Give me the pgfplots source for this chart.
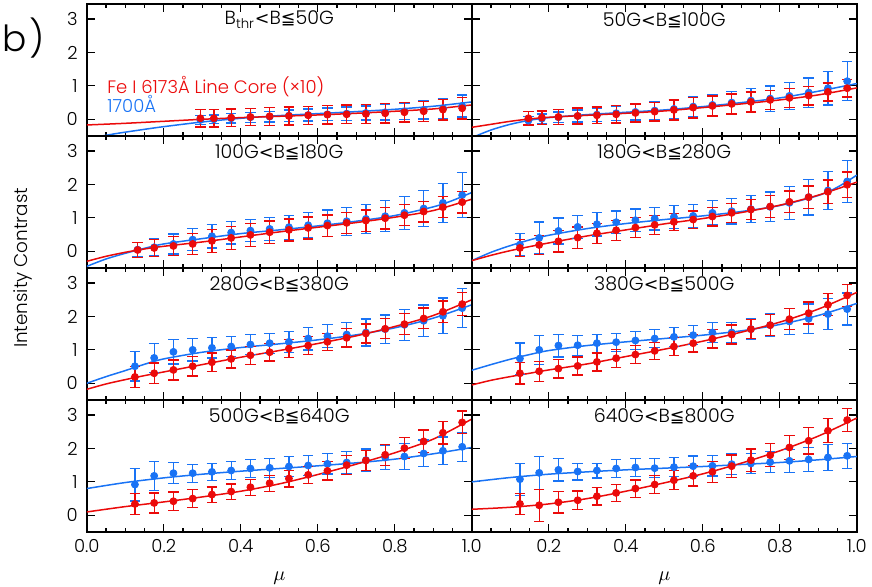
\documentclass[border=0pt]{standalone}
\usepackage{fontspec}
\setmainfont{Poppins}[UprightFont={* Light}]
\newfontfamily\djv{DejaVu Sans}[Scale=0.92]
\usepackage{pgfplots}
\usepackage{pgfplotstable}
\pgfplotsset{compat=1.18}
\usepgfplotslibrary{groupplots}
\definecolor{rd}{RGB}{235,10,10}
\definecolor{bl}{RGB}{25,115,245}

\pgfplotstableread{
x b be r re
0.295 -0.02 0.13 0.03 0.26
0.330 0.00 0.13 0.03 0.26
0.375 0.03 0.14 0.05 0.26
0.425 0.06 0.15 0.07 0.26
0.475 0.08 0.16 0.09 0.27
0.525 0.11 0.17 0.10 0.27
0.575 0.13 0.18 0.12 0.27
0.625 0.15 0.19 0.14 0.28
0.675 0.17 0.20 0.15 0.28
0.725 0.19 0.21 0.16 0.28
0.775 0.21 0.23 0.18 0.29
0.825 0.24 0.25 0.21 0.29
0.875 0.28 0.27 0.24 0.30
0.925 0.33 0.30 0.29 0.31
0.975 0.40 0.33 0.33 0.32
}\tA
\pgfplotstableread{
x b be r re
0.147 -0.04 0.12 0.03 0.20
0.182 0.02 0.14 0.05 0.20
0.225 0.06 0.16 0.07 0.22
0.275 0.10 0.18 0.10 0.24
0.325 0.14 0.20 0.12 0.25
0.375 0.18 0.22 0.15 0.26
0.425 0.22 0.24 0.19 0.27
0.475 0.26 0.26 0.23 0.28
0.525 0.31 0.28 0.28 0.30
0.575 0.38 0.30 0.35 0.31
0.625 0.43 0.32 0.40 0.30
0.675 0.50 0.34 0.46 0.30
0.725 0.56 0.36 0.52 0.30
0.775 0.62 0.38 0.58 0.29
0.825 0.70 0.40 0.64 0.29
0.875 0.80 0.44 0.71 0.28
0.925 0.93 0.50 0.82 0.27
0.975 1.14 0.58 0.93 0.26
}\tB
\pgfplotstableread{
x b be r re
0.132 0.05 0.22 0.04 0.22
0.175 0.12 0.26 0.10 0.25
0.225 0.22 0.30 0.16 0.28
0.275 0.35 0.33 0.22 0.32
0.325 0.45 0.35 0.31 0.34
0.375 0.56 0.34 0.40 0.35
0.425 0.62 0.33 0.49 0.35
0.475 0.67 0.34 0.57 0.34
0.525 0.72 0.36 0.64 0.33
0.575 0.78 0.38 0.70 0.33
0.625 0.84 0.40 0.77 0.32
0.675 0.90 0.42 0.85 0.32
0.725 0.97 0.44 0.92 0.32
0.775 1.05 0.46 0.99 0.32
0.825 1.15 0.50 1.08 0.31
0.875 1.28 0.54 1.19 0.31
0.925 1.45 0.58 1.32 0.31
0.975 1.68 0.67 1.47 0.32
}\tC
\pgfplotstableread{
x b be r re
0.125 0.20 0.33 0.10 0.26
0.175 0.40 0.48 0.19 0.28
0.225 0.61 0.39 0.30 0.32
0.275 0.73 0.35 0.41 0.32
0.325 0.81 0.35 0.54 0.30
0.375 0.87 0.34 0.63 0.30
0.425 0.93 0.34 0.71 0.30
0.475 0.98 0.34 0.79 0.28
0.525 1.03 0.34 0.88 0.26
0.575 1.06 0.34 0.95 0.26
0.625 1.15 0.36 1.04 0.28
0.675 1.20 0.38 1.15 0.28
0.725 1.26 0.40 1.25 0.30
0.775 1.33 0.44 1.34 0.32
0.825 1.45 0.49 1.48 0.32
0.875 1.62 0.53 1.62 0.33
0.925 1.82 0.57 1.78 0.35
0.975 2.09 0.63 1.99 0.38
}\tD
\pgfplotstableread{
x b be r re
0.125 0.51 0.44 0.19 0.31
0.175 0.76 0.44 0.30 0.31
0.225 0.94 0.36 0.40 0.30
0.275 1.00 0.33 0.51 0.29
0.325 1.06 0.30 0.63 0.28
0.375 1.10 0.30 0.73 0.27
0.425 1.16 0.30 0.84 0.27
0.475 1.20 0.30 0.93 0.26
0.525 1.24 0.32 1.04 0.26
0.575 1.34 0.34 1.13 0.26
0.625 1.41 0.34 1.24 0.26
0.675 1.46 0.36 1.36 0.27
0.725 1.52 0.40 1.49 0.28
0.775 1.62 0.42 1.63 0.30
0.825 1.75 0.46 1.77 0.31
0.875 1.87 0.47 1.94 0.31
0.925 2.02 0.53 2.14 0.32
0.975 2.25 0.59 2.37 0.34
}\tE
\pgfplotstableread{
x b be r re
0.125 0.74 0.47 0.30 0.32
0.175 1.00 0.43 0.36 0.30
0.225 1.13 0.34 0.44 0.28
0.275 1.14 0.30 0.52 0.27
0.325 1.20 0.27 0.64 0.27
0.375 1.23 0.27 0.75 0.27
0.425 1.28 0.27 0.86 0.27
0.475 1.34 0.27 0.97 0.26
0.525 1.39 0.28 1.10 0.26
0.575 1.44 0.28 1.20 0.26
0.625 1.52 0.30 1.33 0.27
0.675 1.52 0.30 1.46 0.28
0.725 1.62 0.32 1.62 0.29
0.775 1.74 0.34 1.74 0.31
0.825 1.85 0.38 1.92 0.32
0.875 1.93 0.44 2.10 0.33
0.925 2.07 0.46 2.35 0.33
0.975 2.22 0.48 2.63 0.33
}\tF
\pgfplotstableread{
x b be r re
0.125 0.92 0.49 0.34 0.32
0.175 1.18 0.43 0.37 0.30
0.225 1.26 0.31 0.42 0.28
0.275 1.26 0.27 0.50 0.27
0.325 1.30 0.25 0.62 0.23
0.375 1.34 0.26 0.71 0.23
0.425 1.40 0.27 0.84 0.24
0.475 1.42 0.28 0.96 0.24
0.525 1.46 0.29 1.10 0.25
0.575 1.49 0.30 1.21 0.26
0.625 1.54 0.30 1.33 0.27
0.675 1.58 0.32 1.50 0.28
0.725 1.65 0.33 1.64 0.30
0.775 1.73 0.35 1.81 0.31
0.825 1.76 0.38 2.01 0.32
0.875 1.85 0.40 2.21 0.34
0.925 1.93 0.41 2.47 0.34
0.975 2.05 0.43 2.78 0.34
}\tG
\pgfplotstableread{
x b be r re
0.125 1.08 0.48 0.34 0.32
0.175 1.27 0.49 0.30 0.48
0.225 1.36 0.33 0.39 0.32
0.275 1.31 0.25 0.45 0.28
0.325 1.34 0.22 0.57 0.26
0.375 1.40 0.27 0.67 0.26
0.425 1.43 0.26 0.80 0.26
0.475 1.41 0.28 0.92 0.27
0.525 1.44 0.28 1.05 0.28
0.575 1.47 0.30 1.18 0.30
0.625 1.48 0.30 1.30 0.32
0.675 1.53 0.30 1.47 0.33
0.725 1.55 0.30 1.65 0.33
0.775 1.59 0.32 1.80 0.34
0.825 1.63 0.34 2.03 0.36
0.875 1.67 0.36 2.23 0.40
0.925 1.73 0.39 2.53 0.36
0.975 1.78 0.37 2.85 0.35
}\tH

\pgfplotsset{
  dat/.style={#1, only marks, mark=*, mark size=1.75pt,
    mark options={draw=#1, fill=#1},
    error bars/y dir=both, error bars/y explicit,
    error bars/error bar style={line width=0.65pt, color=#1},
    error bars/error mark options={rotate=90, mark size=2.6pt, line width=0.65pt, color=#1}},
  fit/.style={smooth, line width=0.75pt, no marks},
}
\tikzset{ptitle/.style={font=\fontsize{9.5}{11}\selectfont}}
\newcommand{\leqsym}{{\djv ≦}}
\newcommand{\ltsym}{{\djv <}}

\begin{document}
\begin{tikzpicture}
\begin{groupplot}[
  group style={group size=2 by 4, horizontal sep=0pt, vertical sep=0pt,
    xticklabels at=edge bottom, yticklabels at=edge left},
  scale only axis, width=192.5pt, height=66pt,
  xmin=0, xmax=1, ymin=-0.5, ymax=3.45,
  xtick={0,0.2,0.4,0.6,0.8,1}, minor x tick num=3,
  ytick={0,1,2,3},
  tick align=inside, major tick length=4pt, minor tick length=2pt,
  axis line style={line width=0.7pt},
  every tick/.style={black, line width=0.6pt},
  tick label style={font=\fontsize{9}{10}\selectfont},
  /pgf/number format/assume math mode=true,
  xticklabel style={/pgf/number format/fixed, /pgf/number format/fixed zerofill, /pgf/number format/precision=1},
  yticklabel style={xshift=-1pt},
  clip=true,
]
% panel 1
\nextgroupplot
\addplot[bl, fit] coordinates {(0.03,-0.52)(0.08,-0.42)(0.15,-0.30)(0.2,-0.22)(0.3,-0.08)(0.4,0.03)(0.5,0.11)(0.6,0.17)(0.7,0.23)(0.8,0.30)(0.9,0.39)(1.0,0.52)};
\addplot[rd, fit] coordinates {(0,-0.17)(0.1,-0.12)(0.2,-0.06)(0.3,0.0)(0.4,0.05)(0.5,0.09)(0.6,0.13)(0.7,0.18)(0.8,0.24)(0.9,0.31)(1.0,0.43)};
\addplot[dat=bl] table[x=x, y=b, y error=be] {\tA};
\addplot[dat=rd] table[x=x, y=r, y error=re] {\tA};
\node[ptitle] at (rel axis cs:0.5,0.88) {B\textsubscript{thr}\ltsym B\leqsym50G};
\node[anchor=west, text=rd, font=\fontsize{9}{10}\selectfont] at (axis cs:0.035,0.99) {Fe I 6173Å Line Core (×10)};
\node[anchor=west, text=bl, font=\fontsize{9}{10}\selectfont] at (axis cs:0.035,0.47) {1700Å};
% panel 2
\nextgroupplot
\addplot[bl, fit] coordinates {(0,-0.55)(0.05,-0.32)(0.1,-0.15)(0.15,-0.03)(0.2,0.05)(0.3,0.14)(0.4,0.21)(0.5,0.28)(0.6,0.38)(0.7,0.50)(0.8,0.64)(0.9,0.84)(1.0,1.07)};
\addplot[rd, fit] coordinates {(0,-0.24)(0.05,-0.15)(0.1,-0.06)(0.15,0.01)(0.2,0.06)(0.3,0.12)(0.4,0.18)(0.5,0.25)(0.6,0.35)(0.7,0.46)(0.8,0.58)(0.9,0.73)(1.0,0.94)};
\addplot[dat=bl] table[x=x, y=b, y error=be] {\tB};
\addplot[dat=rd] table[x=x, y=r, y error=re] {\tB};
\node[ptitle] at (rel axis cs:0.5,0.88) {50G\ltsym B\leqsym100G};
% panel 3
\nextgroupplot
\addplot[bl, fit] coordinates {(0,-0.45)(0.05,-0.23)(0.1,-0.06)(0.15,0.09)(0.2,0.22)(0.3,0.38)(0.4,0.53)(0.5,0.64)(0.6,0.76)(0.7,0.90)(0.8,1.07)(0.9,1.33)(0.95,1.52)(1.0,1.76)};
\addplot[rd, fit] coordinates {(0,-0.30)(0.05,-0.15)(0.1,-0.03)(0.15,0.07)(0.2,0.15)(0.3,0.28)(0.4,0.43)(0.5,0.58)(0.6,0.72)(0.7,0.86)(0.8,1.02)(0.9,1.22)(1.0,1.56)};
\addplot[dat=bl] table[x=x, y=b, y error=be] {\tC};
\addplot[dat=rd] table[x=x, y=r, y error=re] {\tC};
\node[ptitle] at (rel axis cs:0.5,0.88) {100G\ltsym B\leqsym180G};
% panel 4
\nextgroupplot
\addplot[bl, fit] coordinates {(0,-0.28)(0.05,-0.03)(0.1,0.17)(0.15,0.34)(0.2,0.48)(0.3,0.68)(0.4,0.83)(0.5,0.95)(0.6,1.06)(0.7,1.19)(0.8,1.37)(0.9,1.67)(0.95,1.92)(1.0,2.28)};
\addplot[rd, fit] coordinates {(0,-0.28)(0.05,-0.12)(0.1,0.02)(0.15,0.14)(0.2,0.25)(0.3,0.46)(0.4,0.64)(0.5,0.82)(0.6,0.98)(0.7,1.16)(0.8,1.38)(0.9,1.68)(1.0,2.07)};
\addplot[dat=bl] table[x=x, y=b, y error=be] {\tD};
\addplot[dat=rd] table[x=x, y=r, y error=re] {\tD};
\node[ptitle] at (rel axis cs:0.5,0.88) {180G\ltsym B\leqsym280G};
% panel 5
\nextgroupplot
\addplot[bl, fit] coordinates {(0,0.0)(0.05,0.2)(0.1,0.38)(0.15,0.57)(0.2,0.73)(0.3,0.93)(0.4,1.07)(0.5,1.18)(0.6,1.30)(0.7,1.45)(0.8,1.66)(0.9,1.95)(1.0,2.35)};
\addplot[rd, fit] coordinates {(0,-0.18)(0.05,-0.02)(0.1,0.11)(0.15,0.23)(0.2,0.34)(0.3,0.56)(0.4,0.78)(0.5,0.98)(0.6,1.19)(0.7,1.42)(0.8,1.70)(0.9,2.03)(1.0,2.50)};
\addplot[dat=bl] table[x=x, y=b, y error=be] {\tE};
\addplot[dat=rd] table[x=x, y=r, y error=re] {\tE};
\node[ptitle] at (rel axis cs:0.5,0.88) {280G\ltsym B\leqsym380G};
% panel 6
\nextgroupplot
\addplot[bl, fit] coordinates {(0,0.39)(0.05,0.56)(0.1,0.72)(0.15,0.86)(0.2,0.98)(0.3,1.13)(0.4,1.24)(0.5,1.34)(0.6,1.44)(0.7,1.57)(0.8,1.76)(0.9,2.03)(1.0,2.39)};
\addplot[rd, fit] coordinates {(0,-0.05)(0.05,0.09)(0.1,0.20)(0.15,0.30)(0.2,0.40)(0.3,0.58)(0.4,0.80)(0.5,1.02)(0.6,1.26)(0.7,1.53)(0.8,1.83)(0.9,2.22)(1.0,2.72)};
\addplot[dat=bl] table[x=x, y=b, y error=be] {\tF};
\addplot[dat=rd] table[x=x, y=r, y error=re] {\tF};
\node[ptitle] at (rel axis cs:0.5,0.88) {380G\ltsym B\leqsym500G};
% panel 7
\nextgroupplot[xticklabels={0.0,0.2,0.4,0.6,0.8,1.0}]
\addplot[bl, fit] coordinates {(0,0.80)(0.1,0.98)(0.2,1.12)(0.3,1.23)(0.4,1.32)(0.5,1.40)(0.6,1.48)(0.7,1.57)(0.8,1.68)(0.9,1.84)(1.0,2.03)};
\addplot[rd, fit] coordinates {(0,0.10)(0.1,0.26)(0.2,0.40)(0.3,0.55)(0.4,0.72)(0.5,0.94)(0.6,1.22)(0.7,1.53)(0.8,1.87)(0.9,2.28)(1.0,2.88)};
\addplot[dat=bl] table[x=x, y=b, y error=be] {\tG};
\addplot[dat=rd] table[x=x, y=r, y error=re] {\tG};
\node[ptitle] at (rel axis cs:0.5,0.88) {500G\ltsym B\leqsym640G};
% panel 8
\nextgroupplot[xticklabels={,0.2,0.4,0.6,0.8,1.0}]
\addplot[bl, fit] coordinates {(0,1.0)(0.1,1.13)(0.2,1.23)(0.3,1.30)(0.4,1.36)(0.5,1.41)(0.6,1.46)(0.7,1.52)(0.8,1.58)(0.9,1.66)(1.0,1.76)};
\addplot[rd, fit] coordinates {(0,0.18)(0.1,0.24)(0.2,0.34)(0.3,0.50)(0.4,0.72)(0.5,0.97)(0.6,1.24)(0.7,1.56)(0.8,1.93)(0.9,2.37)(1.0,2.91)};
\addplot[dat=bl] table[x=x, y=b, y error=be] {\tH};
\addplot[dat=rd] table[x=x, y=r, y error=re] {\tH};
\node[ptitle] at (rel axis cs:0.5,0.88) {640G\ltsym B\leqsym800G};
\end{groupplot}
\node[rotate=90, inner sep=0pt, font=\fontsize{9.2}{11}\selectfont] at ([xshift=-32pt]group c1r2.south west) {Intensity Contrast};
\node[inner sep=0pt, font=\fontsize{10}{12}\selectfont] at ([yshift=-23pt]group c1r4.south) {$\mu$};
\node[inner sep=0pt, font=\fontsize{10}{12}\selectfont] at ([yshift=-23pt]group c2r4.south) {$\mu$};
\node[inner sep=0pt, font=\fontsize{18}{22}\selectfont] at ([xshift=-31.6pt, yshift=-17pt]group c1r1.north west) {b\kern1.5pt)};
\pgfresetboundingbox
\path ([xshift=-43.4pt, yshift=2pt]group c1r1.north west) rectangle ([xshift=7.6pt, yshift=-27.5pt]group c2r4.south east);
\end{tikzpicture}
\end{document}
